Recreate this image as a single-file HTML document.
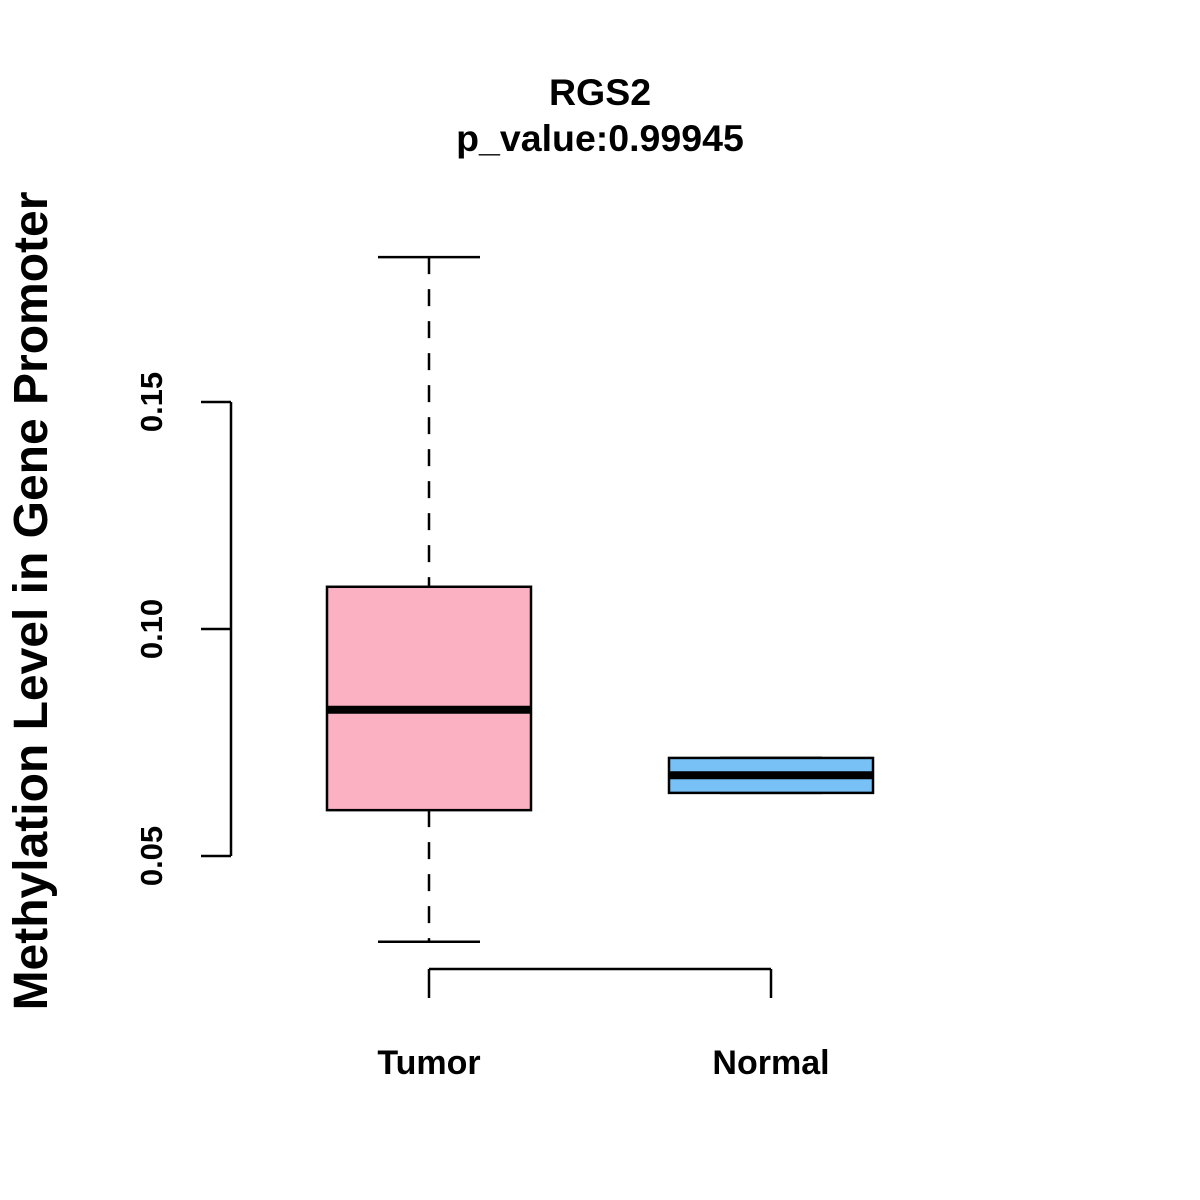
<!DOCTYPE html>
<html><head><meta charset="utf-8"><style>
html,body{margin:0;padding:0;background:#fff;}
svg{display:block;font-family:"Liberation Sans",Arial,sans-serif;font-weight:bold;}
</style></head><body>
<svg id="chart" width="1200" height="1200" viewBox="0 0 1200 1200" xmlns="http://www.w3.org/2000/svg">
<rect width="1200" height="1200" fill="#fff"/>
<text x="600" y="105" text-anchor="middle" font-size="37.5">RGS2</text>
<text x="600" y="151" text-anchor="middle" font-size="37.5">p_value:0.99945</text>
<text transform="translate(47,601) rotate(-90)" text-anchor="middle" font-size="48">Methylation Level in Gene Promoter</text>
<g id="yaxis"></g>
<g id="xaxis"></g>
<g id="boxes"></g>
</svg>
<script>
const categories = ["Tumor", "Normal"];
const whiskerLow = [0.0311, 0.0639];
const q1Values = [0.0601, 0.0639];
const medianValues = [0.0822, 0.0678];
const q3Values = [0.1093, 0.0716];
const whiskerHigh = [0.1819, 0.0716];
const fillColors = ["#FCB1C3", "#77C1F7"];
const yTicks = [0.05, 0.10, 0.15];
const yTickLabels = ["0.05", "0.10", "0.15"];

const NS = "http://www.w3.org/2000/svg";
function y(v){ return 856 - (v - 0.05) * 4540; }
function x(i){ return 429 + i * 342; }
function mk(parent, tag, attrs){
  const e = document.createElementNS(NS, tag);
  for (const k in attrs) e.setAttribute(k, attrs[k]);
  parent.appendChild(e);
  return e;
}
const ya = document.getElementById('yaxis');
const ax = mk(ya, 'line', {x1:231, x2:231, y1:y(yTicks[0]), y2:y(yTicks[yTicks.length-1]), stroke:'#000', 'stroke-width':2.5});


yTicks.forEach((t, i) => {
  const tk = mk(ya, 'line', {x1:201, x2:231, y1:y(t), y2:y(t), stroke:'#000', 'stroke-width':2.5});
  
  
  const lb = mk(ya, 'text', {transform:`translate(162,${y(t)}) rotate(-90)`, 'text-anchor':'middle', 'font-size':31});
  lb.textContent = yTickLabels[i];
  
  
});
const xa = document.getElementById('xaxis');
const xl = mk(xa, 'line', {x1:x(0), x2:x(categories.length-1), y1:969, y2:969, stroke:'#000', 'stroke-width':2.5});


categories.forEach((c, i) => {
  const tk = mk(xa, 'line', {x1:x(i), x2:x(i), y1:969, y2:998, stroke:'#000', 'stroke-width':2.5});
  
  
  const lb = mk(xa, 'text', {x:x(i), y:1074, 'text-anchor':'middle', 'font-size':34});
  lb.textContent = c;
  
  
});
const bg = document.getElementById('boxes');
categories.forEach((c, i) => {
  const cx = x(i);
  const g = mk(bg, 'g', {});
  
  
  mk(g, 'line', {x1:cx, x2:cx, y1:y(whiskerHigh[i]), y2:y(q3Values[i]), stroke:'#000', 'stroke-width':2.5, 'stroke-dasharray':'17 15'});
  mk(g, 'line', {x1:cx, x2:cx, y1:y(q1Values[i]), y2:y(whiskerLow[i]), stroke:'#000', 'stroke-width':2.5, 'stroke-dasharray':'17 15'});
  mk(g, 'line', {x1:cx-51, x2:cx+51, y1:y(whiskerHigh[i]), y2:y(whiskerHigh[i]), stroke:'#000', 'stroke-width':2.5});
  mk(g, 'line', {x1:cx-51, x2:cx+51, y1:y(whiskerLow[i]), y2:y(whiskerLow[i]), stroke:'#000', 'stroke-width':2.5});
  mk(g, 'rect', {x:cx-102, y:y(q3Values[i]), width:204, height:y(q1Values[i]) - y(q3Values[i]), fill:fillColors[i], stroke:'#000', 'stroke-width':2.5});
  mk(g, 'line', {x1:cx-102, x2:cx+102, y1:y(medianValues[i]), y2:y(medianValues[i]), stroke:'#000', 'stroke-width':8});
});
</script>
</body></html>
